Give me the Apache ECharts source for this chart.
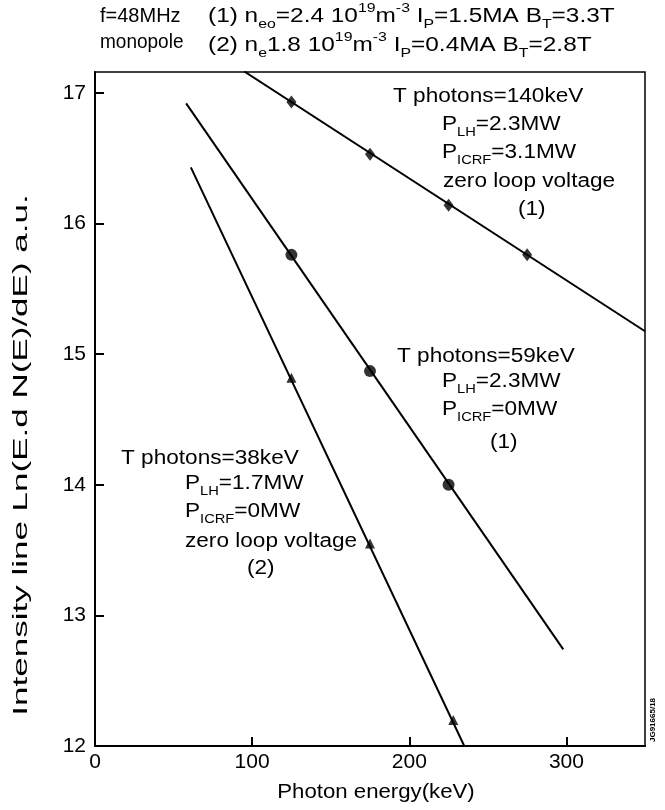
<!DOCTYPE html>
<html>
<head>
<meta charset="utf-8">
<script src="https://cdn.jsdelivr.net/npm/echarts@6/dist/echarts.min.js"></script>
<style>
  html, body { margin: 0; padding: 0; background: #fff; }
  #chart { width: 665px; height: 810px; }
</style>
</head>
<body>
<div id="chart"></div>
<script>
// Hard X-ray photon spectra: Ln(E dN/dE) versus photon energy
const energyICRF = [125, 175, 225, 275];
const lnICRF = [16.93, 16.53, 16.14, 15.76];        // LH + ICRF, discharge (1)

const energyLH1 = [125, 175, 225];
const lnLH1 = [15.76, 14.87, 14.0];                 // LH only, discharge (1)

const energyLH2 = [125, 175, 228];
const lnLH2 = [14.82, 13.55, 12.2];                 // LH only, discharge (2)

// straight-line fits (energy, value) at their end points
const fitICRF = [[95, 17.164], [350, 15.175]];
const fitLH1 = [[58, 16.92], [298, 12.74]];
const fitLH2 = [[61, 16.43], [235, 12.0]];

const FONT = 'Liberation Sans, Arial, Helvetica, sans-serif';
const chart = echarts.init(document.getElementById('chart'), null, { renderer: 'canvas' });

const pairs = (xs, ys) => xs.map((x, i) => [x, ys[i]]);

const rich = {
  b: { fontSize: 20, lineHeight: 21, verticalAlign: 'bottom', padding: [0, 0, 5, 0], color: '#000', fontFamily: FONT },
  s: { fontSize: 13, lineHeight: 14, verticalAlign: 'bottom', padding: [0, 0, 0, 0], color: '#000', fontFamily: FONT },
  u: { fontSize: 13, lineHeight: 14, verticalAlign: 'bottom', padding: [0, 0, 16, 0], color: '#000', fontFamily: FONT }
};

// text block anchored at its top-left corner, stretched along the baseline by sx
function label(x, y, text, sx) {
  return {
    type: 'text', x: x, y: y, scaleX: sx || 1.13, z: 10,
    style: { text: text, rich: rich, font: '20px ' + FONT, fill: '#000', align: 'left', verticalAlign: 'top' }
  };
}

const notes = [
  // header
  label(100, 10, '{b|f=48MHz}', 1.0),
  label(100, 36, '{b|monopole}', 0.95),
  label(208, 10, '{b|(1) n}{s|eo}{b|=2.4 10}{u|19}{b|m}{u|-3}{b| I}{s|P}{b|=1.5MA B}{s|T}{b|=3.3T}', 1.22),
  label(208, 39, '{b|(2) n}{s|e}{b|1.8 10}{u|19}{b|m}{u|-3}{b| I}{s|P}{b|=0.4MA B}{s|T}{b|=2.8T}', 1.22),
  // discharge (1), LH + ICRF
  label(393, 90, '{b|T photons=140keV}'),
  label(442, 118, '{b|P}{s|LH}{b|=2.3MW}'),
  label(442, 146, '{b|P}{s|ICRF}{b|=3.1MW}'),
  label(443, 175, '{b|zero loop voltage}'),
  label(518, 203, '{b|(1)}'),
  // discharge (1), LH only
  label(397, 350, '{b|T photons=59keV}'),
  label(442, 375, '{b|P}{s|LH}{b|=2.3MW}'),
  label(442, 403, '{b|P}{s|ICRF}{b|=0MW}'),
  label(490, 436, '{b|(1)}'),
  // discharge (2), LH only
  label(121, 452, '{b|T photons=38keV}'),
  label(185, 477, '{b|P}{s|LH}{b|=1.7MW}'),
  label(185, 505, '{b|P}{s|ICRF}{b|=0MW}'),
  label(185, 535, '{b|zero loop voltage}'),
  label(247, 562, '{b|(2)}'),
  // axis titles
  {
    type: 'text', x: 376, y: 792, scaleX: 1.11, z: 10,
    style: { text: 'Photon energy(keV)', font: '20px ' + FONT, fill: '#000', align: 'center', verticalAlign: 'middle' }
  },
  {
    type: 'text', x: 21, y: 455, rotation: Math.PI / 2, scaleX: 1.75, z: 10,
    style: { text: 'Intensity line Ln(E.d N(E)/dE) a.u.', font: '20px ' + FONT, fill: '#000', align: 'center', verticalAlign: 'middle' }
  },
  // figure reference
  {
    type: 'text', x: 653, y: 742, rotation: Math.PI / 2, z: 10,
    style: { text: 'JG91665/18', font: 'bold 8px ' + FONT, fill: '#000', align: 'left', verticalAlign: 'middle' }
  }
];

function fitLine(data) {
  return {
    type: 'line', data: data, symbol: 'none', silent: true, clip: true,
    lineStyle: { color: '#000', width: 2 }, z: 2
  };
}

function points(data, symbol, size) {
  return {
    type: 'scatter', data: data, symbol: symbol, symbolSize: size,
    itemStyle: { color: '#000' }, z: 3
  };
}

chart.setOption({
  animation: false,
  backgroundColor: '#fff',
  grid: {
    left: 95, right: 20, top: 72, bottom: 64,
    show: true, borderColor: '#000', borderWidth: 1.5, backgroundColor: 'transparent'
  },
  xAxis: {
    type: 'value', min: 0, max: 350, interval: 100,
    axisLine: { show: true, onZero: false, lineStyle: { color: '#000', width: 2 } },
    axisTick: { show: true, inside: true, length: 9, lineStyle: { color: '#000', width: 2 } },
    axisLabel: { fontFamily: FONT, fontSize: 21, color: '#000', margin: 6, showMaxLabel: false },
    splitLine: { show: false }
  },
  yAxis: {
    type: 'value', min: 12, max: 17.16, interval: 1,
    axisLine: { show: true, onZero: false, lineStyle: { color: '#000', width: 2 } },
    axisTick: { show: true, inside: true, length: 9, lineStyle: { color: '#000', width: 2 } },
    axisLabel: { fontFamily: FONT, fontSize: 21, color: '#000', margin: 9, showMaxLabel: false },
    splitLine: { show: false }
  },
  series: [
    fitLine(fitICRF),
    fitLine(fitLH1),
    fitLine(fitLH2),
    points(pairs(energyICRF, lnICRF), 'diamond', [10, 13]),
    points(pairs(energyLH1, lnLH1), 'circle', 12),
    points(pairs(energyLH2, lnLH2), 'triangle', 10)
  ],
  graphic: notes
});
</script>
</body>
</html>
